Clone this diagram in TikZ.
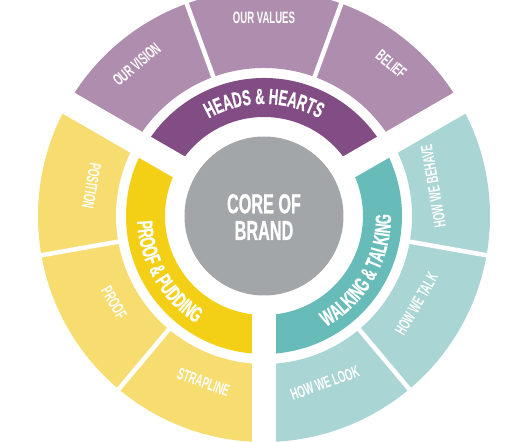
\documentclass[tikz,border=0pt]{standalone}
\usepackage{fontspec}
\usetikzlibrary{decorations.text}
\newfontfamily\cfo[FakeStretch=0.58]{Liberation Sans}
\newfontfamily\cfb[FakeStretch=0.59, FakeBold=0.6]{Liberation Sans}
\definecolor{pdark}{HTML}{824D84}
\definecolor{plight}{HTML}{AF8DAE}
\definecolor{ydark}{HTML}{F3D016}
\definecolor{ylight}{HTML}{F7DC70}
\definecolor{tdark}{HTML}{67BBB8}
\definecolor{tlight}{HTML}{A9D5D4}
\definecolor{coregray}{HTML}{A3A6A9}
\newcommand{\bandfont}{\cfb\bfseries\fontsize{22}{22}\selectfont\color{white}}
\tikzset{
  lbl/.style={text=white, inner sep=0pt, font=\cfo\bfseries\fontsize{16.5}{16.5}\selectfont},
  bandtext/.style={decorate, decoration={text along path, text align=center, text={#1}}},
  gapstrip/.style={fill=white},
  divider/.style={draw=white, line width=4.5pt}
}
\begin{document}
\begin{tikzpicture}[x=1pt,y=1pt]
\useasboundingbox (-264,-226) rectangle (267,216);
\clip (-264,-226) rectangle (267,216);
% outer ring sectors
\fill[plight] (30:148) arc[start angle=30,end angle=150,radius=148] -- (150:226) arc[start angle=150,end angle=30,radius=226] -- cycle;
\fill[ylight] (150:148) arc[start angle=150,end angle=270,radius=148] -- (270:226) arc[start angle=270,end angle=150,radius=226] -- cycle;
\fill[tlight] (270:148) arc[start angle=270,end angle=390,radius=148] -- (390:226) arc[start angle=390,end angle=270,radius=226] -- cycle;
% band sectors
\fill[pdark] (30:99) arc[start angle=30,end angle=150,radius=99] -- (150:138) arc[start angle=150,end angle=30,radius=138] -- cycle;
\fill[ydark] (150:99) arc[start angle=150,end angle=270,radius=99] -- (270:138) arc[start angle=270,end angle=150,radius=138] -- cycle;
\fill[tdark] (270:99) arc[start angle=270,end angle=390,radius=99] -- (390:138) arc[start angle=390,end angle=270,radius=138] -- cycle;
% thin dividers
\foreach \a in {70,110,190,230,310,350} \draw[divider] (\a:140) -- (\a:236);
% main gaps
\foreach \a in {30,150,270} \fill[gapstrip, rotate=\a] (0,-12) rectangle (240,12);
% core
\fill[coregray] (0,0) circle[radius=79.5];
\node[text=white, align=center, inner sep=0pt, font=\cfb\bfseries\fontsize{27.5}{26.7}\selectfont] (core) at (0,-1) {CORE OF\\BRAND};
% band labels
\path[bandtext={|\bandfont|HEADS {\&} HEARTS}] (150:112) arc[start angle=150,end angle=30,radius=112];
\path[bandtext={|\bandfont|PROOF {\&} PUDDING}] (150:127) arc[start angle=150,end angle=270,radius=127];
\path[bandtext={|\bandfont|WALKING {\&} TALKING}] (270:127) arc[start angle=270,end angle=390,radius=127];
% outer labels
\node[lbl, rotate=40] (vision) at (130:198) {OUR VISION};
\node[lbl] (values) at (90:198.5) {OUR VALUES};
\node[lbl, rotate=-40] (belief) at (50:198) {BELIEF};
\node[lbl, rotate=-100] (position) at (170:175) {POSITION};
\node[lbl, rotate=-60] (proof) at (210:173) {PROOF};
\node[lbl, rotate=-20] (strapline) at (250:177) {STRAPLINE};
\node[lbl, rotate=100] (behave) at (10:172) {HOW WE BEHAVE};
\node[lbl, rotate=60] (talk) at (330:176) {HOW WE TALK};
\node[lbl, rotate=20] (look) at (290:178) {HOW WE LOOK};
\end{tikzpicture}
\end{document}
